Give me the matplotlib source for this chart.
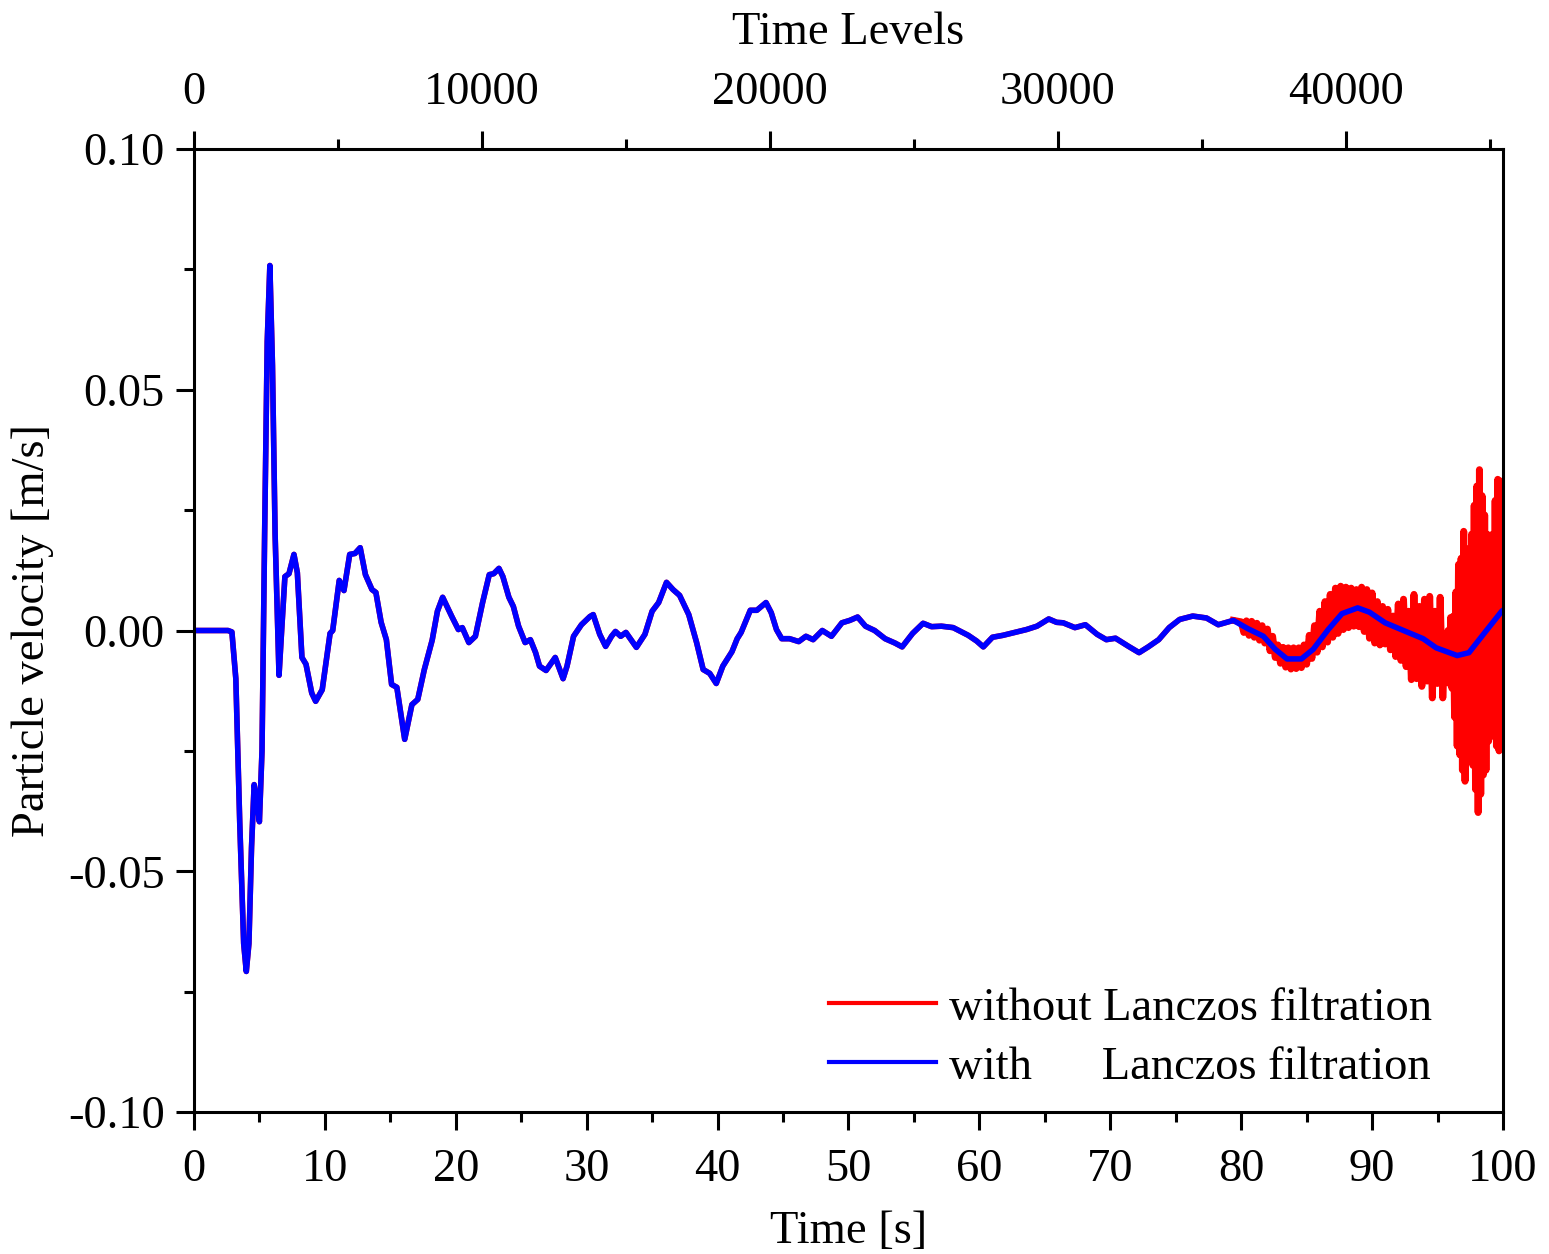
import numpy as np
import matplotlib
matplotlib.use("Agg")
import matplotlib.pyplot as plt
from matplotlib.ticker import MultipleLocator, FormatStrFormatter

plt.rcParams['font.family'] = ['Liberation Serif', 'DejaVu Serif']
plt.rcParams['axes.unicode_minus'] = False
plt.rcParams['path.simplify'] = False

# filtered signal (blue)
t_blue = [0.0, 2.6, 2.9, 3.2, 3.5, 3.8, 4.0, 4.2, 4.4, 4.6, 4.8, 5.0, 5.2, 5.4, 5.6, 5.8,
          6.0, 6.2, 6.5, 6.7, 6.95, 7.26, 7.64, 7.9, 8.25, 8.56, 9.0, 9.3, 9.8, 10.4,
          10.6, 11.1, 11.46, 11.9, 12.3, 12.7, 13.1, 13.6, 13.9, 14.3, 14.7, 15.1, 15.5,
          16.1, 16.65, 17.1, 17.6, 18.2, 18.6, 19.0, 19.7, 20.2, 20.5, 21.0, 21.5, 22.05,
          22.56, 22.9, 23.3, 23.6, 24.06, 24.4, 24.8, 25.3, 25.7, 26.1, 26.4, 26.9, 27.6,
          28.2, 28.5, 29.0, 29.6, 30.25, 30.5, 31.0, 31.45, 31.9, 32.2, 32.6, 33.0, 33.8,
          34.45, 35.0, 35.5, 36.1, 36.6, 37.1, 37.8, 38.4, 38.9, 39.4, 39.9, 40.4, 41.1,
          41.5, 41.8, 42.5, 43.0, 43.7, 44.1, 44.5, 44.9, 45.5, 46.2, 46.75, 47.3, 48.0,
          48.7, 49.5, 50.1, 50.7, 51.3, 52.0, 52.8, 53.55, 54.1, 54.9, 55.7, 56.35, 57.1,
          58.0, 59.15, 59.8, 60.3, 61.0, 61.8, 62.85, 63.6, 64.4, 65.3, 65.9, 66.4, 67.3,
          68.1, 69.0, 69.7, 70.4, 71.4, 72.2, 72.9, 73.7, 74.5, 75.3, 76.3, 77.35, 78.25,
          79.4, 80.5, 81.7, 82.6, 83.5, 84.6, 85.5, 86.65, 87.7, 88.9, 89.8, 91.0, 92.4,
          93.9, 94.9, 96.5, 97.4, 98.5, 99.9, 100.0]
v_blue = [0.0, 0.0, -0.0003, -0.010, -0.040, -0.065, -0.0708, -0.065, -0.045, -0.032, -0.035,
          -0.0397, -0.025, 0.020, 0.060, 0.0758, 0.055, 0.020, -0.0093, 0.0, 0.0112, 0.0118,
          0.0158, 0.012, -0.0056, -0.007, -0.013, -0.0147, -0.0123, -0.0006, 0.0, 0.0104,
          0.0083, 0.0158, 0.016, 0.0172, 0.0116, 0.0085, 0.0079, 0.0017, -0.0019, -0.0112,
          -0.0118, -0.0226, -0.0154, -0.0143, -0.0081, -0.002, 0.004, 0.0069, 0.0029, 0.0002,
          0.0006, -0.0025, -0.0012, 0.0058, 0.0116, 0.0118, 0.0129, 0.0112, 0.0069, 0.005,
          0.0009, -0.0025, -0.0019, -0.0046, -0.0074, -0.0083, -0.0056, -0.010, -0.0074,
          -0.0012, 0.0012, 0.0029, 0.0033, -0.0008, -0.0033, -0.0012, -0.0002, -0.0012,
          -0.0004, -0.0035, -0.0008, 0.004, 0.0058, 0.010, 0.0085, 0.0073, 0.0033, -0.0025,
          -0.0081, -0.0089, -0.011, -0.0074, -0.0044, -0.0017, -0.0004, 0.0042, 0.0042,
          0.0058, 0.0037, 0.0002, -0.0017, -0.0017, -0.0023, -0.0012, -0.0019, 0.0, -0.0012,
          0.0016, 0.0021, 0.0028, 0.0009, 0.0, -0.0017, -0.0026, -0.0034, -0.0006, 0.0015,
          0.0008, 0.0009, 0.0006, -0.001, -0.0022, -0.0034, -0.0014, -0.001, -0.0003, 0.0002,
          0.0009, 0.0024, 0.0017, 0.0016, 0.0006, 0.0012, -0.0008, -0.0019, -0.0016, -0.0033,
          -0.0046, -0.0034, -0.0019, 0.0006, 0.0023, 0.003, 0.0026, 0.0012, 0.0021, 0.0004,
          -0.0012, -0.0039, -0.0059, -0.0059, -0.0039, 0.0002, 0.0035, 0.0047, 0.0038,
          0.0016, 0.0, -0.0017, -0.0036, -0.0052, -0.0046, -0.0008, 0.004, 0.0042]

# unfiltered signal (red): same as blue up to 80 s, then the noisy part
# 80.0 .. 95.6 s, every 0.2 s
v_red_noisy_a = [0.0018, -0.0004, 0.0020, -0.0010, 0.0019, -0.0014, 0.0015, -0.0020, 0.0010, -0.0026,
                 0.0003, -0.0042, -0.0012, -0.0056, -0.0030, -0.0068, -0.0035, -0.0076, -0.0036, -0.0080,
                 -0.0036, -0.0079, -0.0036, -0.0077, -0.0030, -0.0070, -0.0010, -0.0058, 0.0010, -0.0045,
                 0.0040, -0.0034, 0.0060, -0.0024, 0.0075, -0.0014, 0.0088, -0.0006, 0.0092, 0.0002,
                 0.0090, 0.0006, 0.0088, 0.0009, 0.0085, 0.0008, 0.0090, -0.0002, 0.0085, -0.0016,
                 0.0078, -0.0026, 0.0060, -0.0030, 0.0050, -0.0028, 0.0044, -0.0040, 0.0030, -0.0054,
                 0.0055, -0.0062, 0.0065, -0.0075, 0.0040, -0.0102, 0.0075, -0.0100, 0.0050, -0.0116,
                 0.0065, -0.0105, 0.0071, -0.0140, 0.0040, -0.0110, 0.0069, -0.0140, -0.0020]
# 95.7 .. 100.0 s, every 0.1 s
v_red_noisy_b = [-0.0080, 0.0000, -0.0110, 0.0027, -0.0120, 0.0030, -0.0180, 0.0080, -0.0240, 0.0137,
                 -0.0258, 0.0150, -0.0290, 0.0206, -0.0313, 0.0170, -0.0260, 0.0143, -0.0222, 0.0200,
                 -0.0280, 0.0260, -0.0330, 0.0300, -0.0378, 0.0334, -0.0340, 0.0280, -0.0300, 0.0240,
                 -0.0290, 0.0200, -0.0230, 0.0158, -0.0190, 0.0200, -0.0220, 0.0270, -0.0240, 0.0314,
                 -0.0250, 0.0300, -0.0245, 0.0310]
t_red_noisy = np.concatenate([80.0 + 0.2 * np.arange(len(v_red_noisy_a)),
                              95.7 + 0.1 * np.arange(len(v_red_noisy_b))])
v_red_noisy = np.concatenate([v_red_noisy_a, v_red_noisy_b])

time_levels_max = 45454.5  # top axis span for 0..100 s

t_blue = np.array(t_blue)
v_blue = np.array(v_blue)
keep = t_blue < 80.0

FS = 33.5

fig = plt.figure(figsize=(15.49, 12.54), dpi=100)
ax = fig.add_axes([0.1252, 0.1132, 0.8451, 0.768])

# red: smooth part + noisy part (drawn a bit wider so the band fills in)
ax.plot(t_blue[keep], v_blue[keep], color='red', lw=4.0, solid_joinstyle='round',
        label='without Lanczos filtration')
ax.plot(np.concatenate([[t_blue[keep][-1]], t_red_noisy]),
        np.concatenate([[v_blue[keep][-1]], v_red_noisy]), color='red', lw=5.0)
ax.plot(t_blue, v_blue, color='blue', lw=4.0, solid_joinstyle='round',
        label='with      Lanczos filtration')

ax.set_xlim(0, 100)
ax.set_ylim(-0.10, 0.10)
ax.xaxis.set_major_locator(MultipleLocator(10))
ax.xaxis.set_minor_locator(MultipleLocator(5))
ax.yaxis.set_major_locator(MultipleLocator(0.05))
ax.yaxis.set_minor_locator(MultipleLocator(0.025))
ax.yaxis.set_major_formatter(FormatStrFormatter('%.2f'))
ax.tick_params(which='both', direction='out', width=2.2, labelsize=FS)
ax.tick_params(axis='x', pad=13)
ax.tick_params(axis='y', pad=8)
ax.tick_params(which='major', length=13)
ax.tick_params(which='minor', length=7)
ax.tick_params(right=False, top=False)
for s in ax.spines.values():
    s.set_linewidth(2.2)

ax.set_xlabel('Time [s]', fontsize=FS, labelpad=14)
ax.set_ylabel('Particle velocity [m/s]', fontsize=FS, labelpad=10)

ax2 = ax.twiny()
ax2.set_xlim(0, time_levels_max)
ax2.xaxis.set_major_locator(MultipleLocator(10000))
ax2.xaxis.set_minor_locator(MultipleLocator(5000))
ax2.tick_params(which='both', direction='out', width=2.2, labelsize=FS, pad=12)
ax2.tick_params(which='major', length=13)
ax2.tick_params(which='minor', length=7)
ax2.set_xlabel('Time Levels', fontsize=FS, labelpad=20)

leg = ax.legend(loc='lower right', bbox_to_anchor=(0.960, 0.005), frameon=False,
                fontsize=FS, handlelength=2.3, handletextpad=0.28, labelspacing=0.35,
                borderaxespad=0.0)
for h in leg.get_lines():
    h.set_linewidth(3)

fig.savefig('out.png', dpi=100)
